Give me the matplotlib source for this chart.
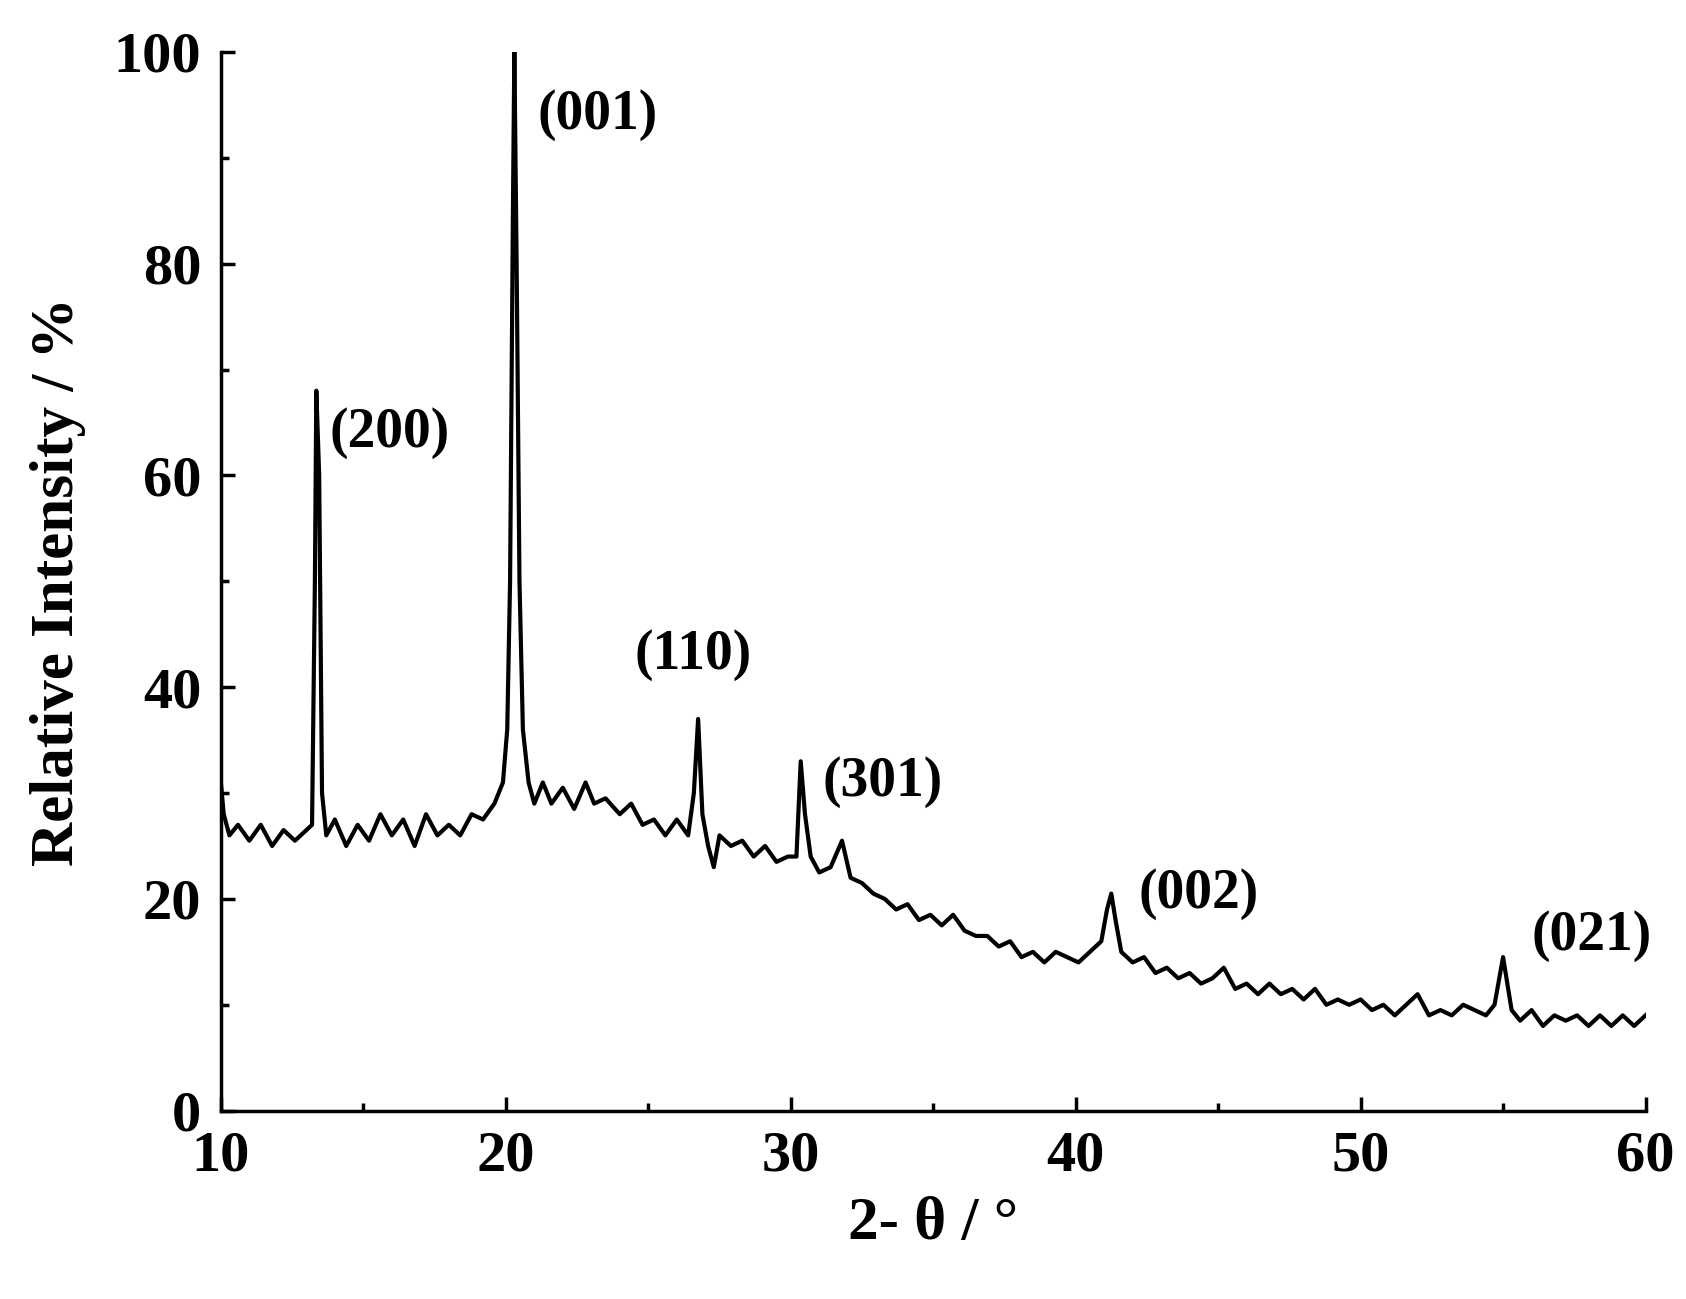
import matplotlib.pyplot as plt
from matplotlib.ticker import MultipleLocator

# values (2-theta in degrees, relative intensity in %)
two_theta = [10, 10.1, 10.3, 10.6, 11, 11.4, 11.8, 12.2, 12.6, 13.0, 13.2, 13.3, 13.35, 13.45, 13.55,
             13.7, 14, 14.4, 14.8, 15.2, 15.6, 16, 16.4, 16.8, 17.2, 17.6, 18, 18.4, 18.8, 19.2,
             19.6, 19.9, 20.05, 20.15, 20.25, 20.3, 20.38, 20.48, 20.6, 20.8, 21, 21.3, 21.6, 22,
             22.4, 22.8, 23.1, 23.5, 24, 24.4, 24.8, 25.2, 25.6, 26, 26.4, 26.6, 26.75, 26.9, 27.1,
             27.3, 27.5, 27.9, 28.3, 28.7, 29.1, 29.5, 29.9, 30.2, 30.35, 30.5, 30.7, 31, 31.4,
             31.8, 32.1, 32.5, 32.9, 33.3, 33.7, 34.1, 34.5, 34.9, 35.3, 35.7, 36.1, 36.5, 36.9,
             37.3, 37.7, 38.1, 38.5, 38.9, 39.3, 39.7, 40.1, 40.5, 40.9, 41.1, 41.25, 41.4, 41.6,
             42, 42.4, 42.8, 43.2, 43.6, 44, 44.4, 44.8, 45.2, 45.6, 46, 46.4, 46.8, 47.2, 47.6,
             48, 48.4, 48.8, 49.2, 49.6, 50, 50.4, 50.8, 51.2, 51.6, 52, 52.4, 52.8, 53.2, 53.6,
             54, 54.4, 54.7, 54.9, 55, 55.15, 55.3, 55.6, 56, 56.4, 56.8, 57.2, 57.6, 58, 58.4,
             58.8, 59.2, 59.6, 60]
intensity = [31, 28, 26, 27, 25.5, 27, 25, 26.5, 25.5, 26.5, 27, 50, 68, 60, 30,
             26, 27.5, 25, 27, 25.5, 28, 26, 27.5, 25, 28, 26, 27, 26, 28, 27.5,
             29, 31, 36, 50, 85, 100, 80, 50, 36, 31, 29, 31, 29, 30.5,
             28.5, 31, 29, 29.5, 28, 29, 27, 27.5, 26, 27.5, 26, 30, 37, 28, 25,
             23, 26, 25, 25.5, 24, 25, 23.5, 24, 24, 33, 28, 24, 22.5, 23,
             25.5, 22, 21.5, 20.5, 20, 19, 19.5, 18, 18.5, 17.5, 18.5, 17, 16.5, 16.5,
             15.5, 16, 14.5, 15, 14, 15, 14.5, 14, 15, 16, 19, 20.5, 18, 15,
             14, 14.5, 13, 13.5, 12.5, 13, 12, 12.5, 13.5, 11.5, 12, 11, 12, 11, 11.5,
             10.5, 11.5, 10, 10.5, 10, 10.5, 9.5, 10, 9, 10, 11, 9, 9.5, 9, 10,
             9.5, 9, 10, 13, 14.5, 12, 9.5, 8.5, 9.5, 8, 9, 8.5, 9, 8, 9,
             8, 9, 8, 9]

peak_labels = ['(200)', '(001)', '(110)', '(301)', '(002)', '(021)']
peak_x = [13.8, 21.1, 24.5, 31.1, 42.2, 56.0]
peak_y = [64, 94, 43, 31, 20.5, 16.5]

plt.rcParams['font.family'] = ['Liberation Serif', 'DejaVu Serif']
plt.rcParams['font.weight'] = 'bold'

fig = plt.figure(figsize=(16.86, 12.99), dpi=100)
ax = fig.add_axes([0.131, 0.145, 0.845, 0.815])
ax.plot(two_theta, intensity, color='black', lw=3)

for lab, px, py in zip(peak_labels, peak_x, peak_y):
    ax.text(px, py, lab, fontsize=40, fontweight='bold', ha='left', va='center')

ax.set_xlim(10, 60)
ax.set_ylim(0, 100)
ax.xaxis.set_major_locator(MultipleLocator(10))
ax.xaxis.set_minor_locator(MultipleLocator(5))
ax.yaxis.set_major_locator(MultipleLocator(20))
ax.yaxis.set_minor_locator(MultipleLocator(10))
ax.tick_params(which='major', direction='in', length=10, width=2.5, labelsize=42, pad=14)
ax.tick_params(which='minor', direction='in', length=6, width=2.5)
for lbl in ax.get_xticklabels() + ax.get_yticklabels():
    lbl.set_fontweight('bold')
ax.spines['top'].set_visible(False)
ax.spines['right'].set_visible(False)
for s in ('left', 'bottom'):
    ax.spines[s].set_linewidth(2.5)

ax.set_xlabel('2- θ / °', fontsize=44, fontweight='bold', labelpad=10)
ax.set_ylabel('Relative Intensity / %', fontsize=44, fontweight='bold', labelpad=20)

fig.savefig('out.png', dpi=100)
